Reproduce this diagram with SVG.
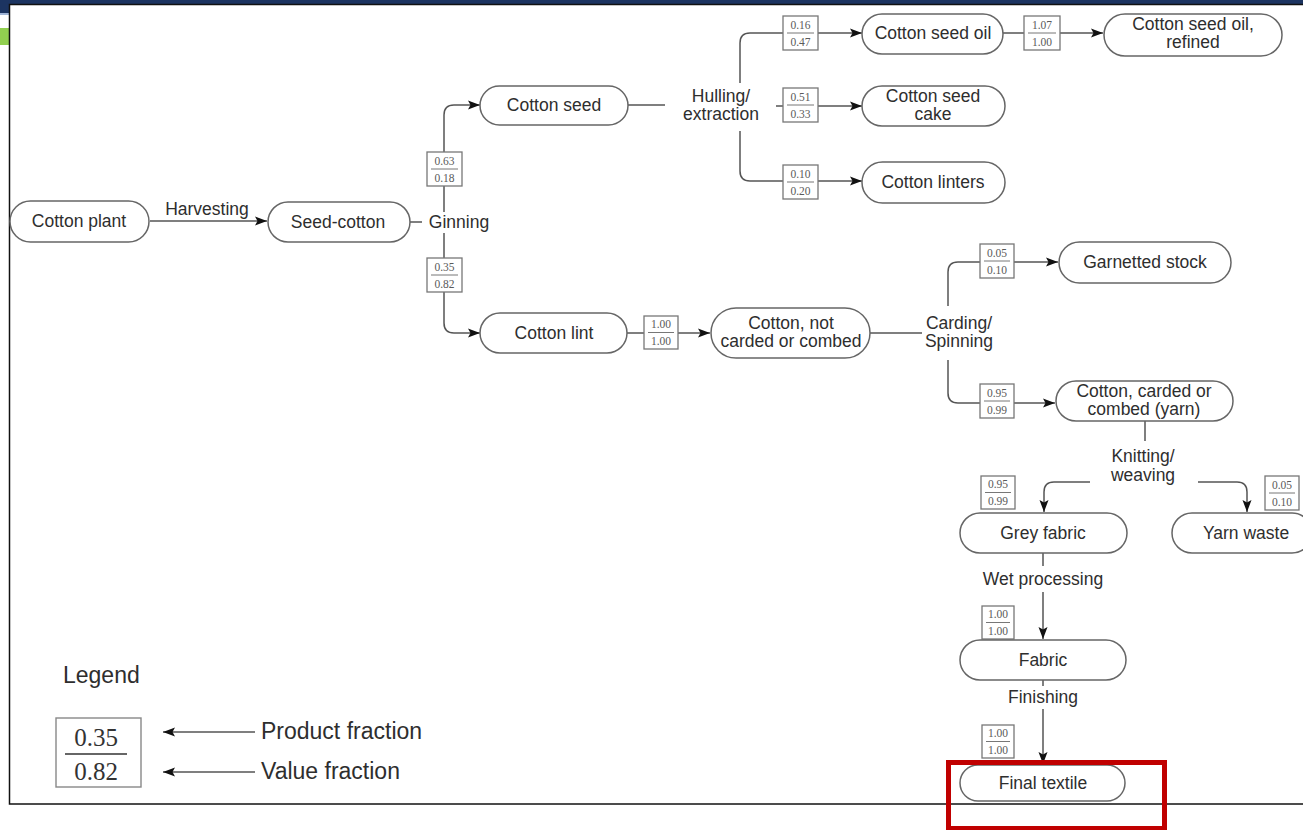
<svg xmlns="http://www.w3.org/2000/svg" width="1303" height="830" viewBox="0 0 1303 830">
<defs>
<style>
.pill{fill:#fff;stroke:#666;stroke-width:1.5}
.lbl{font-family:"Liberation Sans",Arial,sans-serif;font-size:17.5px;fill:#2e2e2e;text-anchor:middle}
.proc{font-family:"Liberation Sans",Arial,sans-serif;font-size:17.5px;fill:#2e2e2e;text-anchor:middle}
.fb rect{fill:#fff;stroke:#777;stroke-width:1.3}
.fb line{stroke:#777;stroke-width:1}
.fb text{font-family:"Liberation Serif","Times New Roman",serif;font-size:11.5px;fill:#5a5a5a;text-anchor:middle}
.conn{fill:none;stroke:#555;stroke-width:1.5}
.leg{font-family:"Liberation Sans",Arial,sans-serif;font-size:23px;fill:#2e2e2e}
</style>
<marker id="ah" viewBox="0 0 12 10" refX="12" refY="5" markerWidth="12" markerHeight="10" markerUnits="userSpaceOnUse" orient="auto">
<path d="M0,0.5 L12,5 L0,9.5 L2.5,5 Z" fill="#111"/>
</marker>
</defs>

<!-- background frame -->
<rect x="0" y="0" width="1303" height="830" fill="#fff"/>
<rect x="0" y="0" width="1303" height="13" fill="#1c3461"/>
<rect x="0" y="13" width="10" height="2" fill="#9fb4d6"/>
<rect x="0" y="28" width="10" height="17" fill="#92d050"/>
<rect x="9.5" y="4.5" width="1300" height="799.5" fill="#fff" stroke="#111" stroke-width="1.5"/>

<!-- connectors -->
<g id="connectors" class="conn">
<path d="M150,221 L267,221" marker-end="url(#ah)"/>
<path d="M410,222 L422,222"/>
<path d="M444,212 L444,115 Q444,105 454,105 L480,105" marker-end="url(#ah)"/>
<path d="M444,233 L444,323 Q444,333 454,333 L480,333" marker-end="url(#ah)"/>
<path d="M628,105 L665,105"/>
<path d="M740,83 L740,43 Q740,33 750,33 L862,33" marker-end="url(#ah)"/>
<path d="M776,106 L862,106" marker-end="url(#ah)"/>
<path d="M740,131 L740,171 Q740,181 750,181 L862,181" marker-end="url(#ah)"/>
<path d="M1003,33 L1103,33" marker-end="url(#ah)"/>
<path d="M627,333 L710,333" marker-end="url(#ah)"/>
<path d="M870,333 L922,333"/>
<path d="M948,306 L948,272 Q948,262 958,262 L1058,262" marker-end="url(#ah)"/>
<path d="M948,360 L948,393 Q948,403 958,403 L1055,403" marker-end="url(#ah)"/>
<path d="M1145,421 L1145,441"/>
<path d="M1090,482 L1054,482 Q1044,482 1044,492 L1044,512" marker-end="url(#ah)"/>
<path d="M1198,482 L1237,482 Q1247,482 1247,492 L1247,512" marker-end="url(#ah)"/>
<path d="M1043,553 L1043,566"/>
<path d="M1043,592 L1043,639" marker-end="url(#ah)"/>
<path d="M1043,680 L1043,686"/>
<path d="M1043,709 L1043,764" marker-end="url(#ah)"/>
</g>

<!-- process labels -->
<g id="processes">
<text class="proc" x="207" y="215">Harvesting</text>
<text class="proc" x="459" y="228">Ginning</text>
<text class="proc" x="721" y="102">Hulling/</text>
<text class="proc" x="721" y="120">extraction</text>
<text class="proc" x="959" y="329">Carding/</text>
<text class="proc" x="959" y="347">Spinning</text>
<text class="proc" x="1143" y="462">Knitting/</text>
<text class="proc" x="1143" y="481">weaving</text>
<text class="proc" x="1043" y="585">Wet processing</text>
<text class="proc" x="1043" y="703">Finishing</text>
</g>

<!-- fraction boxes -->
<g id="fractions" class="fb">
<g><rect x="427" y="152" width="35" height="34"/><line x1="431" y1="169" x2="458" y2="169"/><text x="444.5" y="165">0.63</text><text x="444.5" y="182">0.18</text></g>
<g><rect x="427" y="258" width="35" height="34"/><line x1="431" y1="275" x2="458" y2="275"/><text x="444.5" y="271">0.35</text><text x="444.5" y="288">0.82</text></g>
<g><rect x="783" y="16" width="35" height="34"/><line x1="787" y1="33" x2="814" y2="33"/><text x="800.5" y="29">0.16</text><text x="800.5" y="46">0.47</text></g>
<g><rect x="783" y="88" width="35" height="34"/><line x1="787" y1="105" x2="814" y2="105"/><text x="800.5" y="101">0.51</text><text x="800.5" y="118">0.33</text></g>
<g><rect x="783" y="165" width="35" height="34"/><line x1="787" y1="182" x2="814" y2="182"/><text x="800.5" y="178">0.10</text><text x="800.5" y="195">0.20</text></g>
<g><rect x="1024" y="16" width="36" height="34"/><line x1="1028" y1="33" x2="1056" y2="33"/><text x="1042" y="29">1.07</text><text x="1042" y="46">1.00</text></g>
<g><rect x="644" y="316" width="34" height="33"/><line x1="648" y1="332.5" x2="674" y2="332.5"/><text x="661" y="328">1.00</text><text x="661" y="345">1.00</text></g>
<g><rect x="980" y="244" width="34" height="34"/><line x1="984" y1="261" x2="1010" y2="261"/><text x="997" y="257">0.05</text><text x="997" y="274">0.10</text></g>
<g><rect x="980" y="384" width="34" height="34"/><line x1="984" y1="401" x2="1010" y2="401"/><text x="997" y="397">0.95</text><text x="997" y="414">0.99</text></g>
<g><rect x="981" y="476" width="34" height="33"/><line x1="985" y1="492.5" x2="1011" y2="492.5"/><text x="998" y="488">0.95</text><text x="998" y="505">0.99</text></g>
<g><rect x="1265" y="476" width="34" height="34"/><line x1="1269" y1="493" x2="1295" y2="493"/><text x="1282" y="489">0.05</text><text x="1282" y="506">0.10</text></g>
<g><rect x="982" y="606" width="32" height="33"/><line x1="986" y1="622.5" x2="1010" y2="622.5"/><text x="998" y="618">1.00</text><text x="998" y="635">1.00</text></g>
<g><rect x="982" y="725" width="32" height="33"/><line x1="986" y1="741.5" x2="1010" y2="741.5"/><text x="998" y="737">1.00</text><text x="998" y="754">1.00</text></g>
</g>

<!-- nodes -->
<g id="n-cotton-plant"><rect class="pill" x="10" y="201" width="139" height="41" rx="20.5"/><text class="lbl" x="79" y="227">Cotton plant</text></g>
<g id="n-seed-cotton"><rect class="pill" x="268" y="202" width="142" height="40" rx="20"/><text class="lbl" x="338" y="228">Seed-cotton</text></g>
<g id="n-cotton-seed"><rect class="pill" x="480" y="86" width="148" height="39" rx="19.5"/><text class="lbl" x="554" y="111">Cotton seed</text></g>
<g id="n-seed-oil"><rect class="pill" x="862" y="14" width="141" height="40" rx="20"/><text class="lbl" x="933" y="39">Cotton seed oil</text></g>
<g id="n-oil-refined"><rect class="pill" x="1104" y="14" width="178" height="42" rx="21"/><text class="lbl" x="1193" y="30">Cotton seed oil,</text><text class="lbl" x="1193" y="48">refined</text></g>
<g id="n-seed-cake"><rect class="pill" x="862" y="86" width="143" height="40" rx="20"/><text class="lbl" x="933" y="102">Cotton seed</text><text class="lbl" x="933" y="120">cake</text></g>
<g id="n-linters"><rect class="pill" x="862" y="162" width="143" height="41" rx="20.5"/><text class="lbl" x="933" y="188">Cotton linters</text></g>
<g id="n-cotton-lint"><rect class="pill" x="480" y="313" width="147" height="40" rx="20"/><text class="lbl" x="554" y="339">Cotton lint</text></g>
<g id="n-not-carded"><rect class="pill" x="711" y="308" width="159" height="50" rx="25"/><text class="lbl" x="791" y="329">Cotton, not</text><text class="lbl" x="791" y="347">carded or combed</text></g>
<g id="n-garnetted"><rect class="pill" x="1059" y="242" width="172" height="41" rx="20.5"/><text class="lbl" x="1145" y="268">Garnetted stock</text></g>
<g id="n-yarn"><rect class="pill" x="1056" y="381" width="177" height="40" rx="20"/><text class="lbl" x="1144" y="397">Cotton, carded or</text><text class="lbl" x="1144" y="415">combed (yarn)</text></g>
<g id="n-grey-fabric"><rect class="pill" x="960" y="513" width="167" height="40" rx="20"/><text class="lbl" x="1043" y="539">Grey fabric</text></g>
<g id="n-yarn-waste"><rect class="pill" x="1172" y="513" width="140" height="40" rx="20"/><text class="lbl" x="1246" y="539">Yarn waste</text></g>
<g id="n-fabric"><rect class="pill" x="960" y="640" width="166" height="40" rx="20"/><text class="lbl" x="1043" y="666">Fabric</text></g>
<g id="n-final"><rect class="pill" x="960" y="765" width="165" height="36" rx="18"/><text class="lbl" x="1043" y="789">Final textile</text></g>

<!-- legend -->
<g id="legend">
<text class="leg" x="63" y="683">Legend</text>
<rect x="56" y="718" width="85" height="69" fill="#fff" stroke="#888" stroke-width="1.4"/>
<line x1="65" y1="754" x2="127" y2="754" stroke="#333" stroke-width="1.6"/>
<text x="96" y="746" font-family="'Liberation Serif','Times New Roman',serif" font-size="25" fill="#333" text-anchor="middle">0.35</text>
<text x="96" y="780" font-family="'Liberation Serif','Times New Roman',serif" font-size="25" fill="#333" text-anchor="middle">0.82</text>
<path class="conn" d="M255,732 L163,732" marker-end="url(#ah)"/>
<path class="conn" d="M255,772 L163,772" marker-end="url(#ah)"/>
<text class="leg" x="261" y="739">Product fraction</text>
<text class="leg" x="261" y="779">Value fraction</text>
</g>

<!-- highlight -->
<rect x="948.5" y="762.5" width="216" height="66" fill="none" stroke="#c00000" stroke-width="5"/>
</svg>
